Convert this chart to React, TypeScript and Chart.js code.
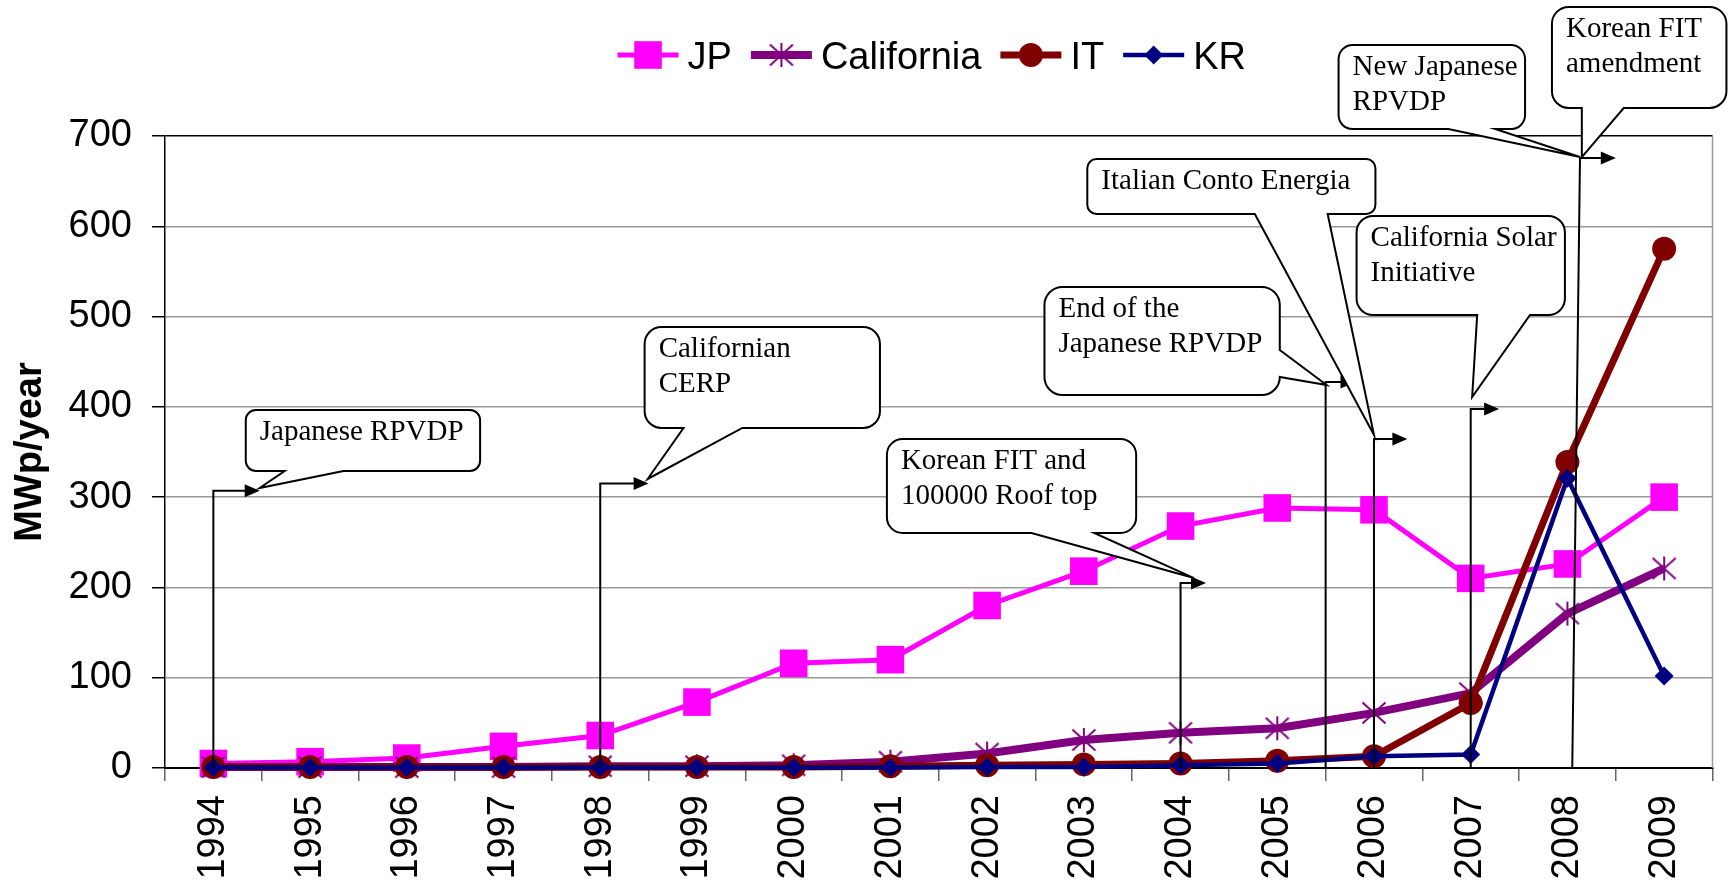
import React, { useEffect, useRef } from 'react';
import { Chart, registerables } from 'chart.js';

Chart.register(...registerables);

// ---------------- data ----------------
const YEARS = ['1994', '1995', '1996', '1997', '1998', '1999', '2000', '2001', '2002', '2003', '2004', '2005', '2006', '2007', '2008', '2009'];
const JP = [5, 7, 11, 24, 36, 73, 116, 120, 180, 218, 268, 288, 286, 210, 226, 300];
const CALIFORNIA = [1, 1, 1, 1, 2, 2, 3, 7, 16, 31, 39, 44, 61, 83, 171, 221];
const IT = [1, 1, 1, 1, 1, 1, 1, 2, 3, 4, 5, 8, 13, 72, 339, 575];
const KR = [0.5, 0.5, 0.5, 0.5, 0.5, 0.5, 0.5, 0.5, 1, 1, 3, 5, 13, 15, 321, 102];
const Y_MIN = 0;
const Y_MAX = 700;
const Y_STEP = 100;
const SERIES_LABELS = ['JP', 'California', 'IT', 'KR'];
const Y_TITLE = 'MWp/year';

// Elbow arrows (data units: category index, MWp/year)
const ARROW_BASE_X = [0, 4, 10, 11.5, 12, 13, 14.05];
const ARROW_TOP_X = [0, 4, 10, 11.5, 12, 13, 14.13];
const ARROW_Y = [307, 315, 205, 427.5, 364.4, 397.6, 675.6];
const ARROW_TIP_X = [0.479, 4.5, 10.263, 11.809, 12.345, 13.294, 14.5];

// Callout bubbles (data units)
const CALLOUT_LINES = [
  ['Japanese RPVDP'],
  ['Californian', 'CERP'],
  ['Korean FIT and', '100000 Roof top'],
  ['End of the', 'Japanese RPVDP'],
  ['Italian Conto Energia'],
  ['California Solar', 'Initiative'],
  ['New Japanese', 'RPVDP'],
  ['Korean FIT', 'amendment'],
];
// [left index, top value, right index, bottom value]
const CALLOUT_BOX = [
  [0.335, 396.5, 2.758, 329.0],
  [4.459, 488.4, 6.892, 376.6],
  [6.964, 364.4, 9.541, 260.3],
  [8.593, 532.8, 11.026, 413.1],
  [9.036, 674.5, 12.015, 613.6],
  [11.82, 611.4, 13.974, 501.7],
  [11.634, 800.8, 13.562, 707.7],
  [13.84, 842.9, 15.644, 731.0],
];
// wedge: side, base start, base end (index for bottom / value for right), tip index, tip value
const CALLOUT_WEDGE: [string, number, number, number, number][] = [
  ['bottom', 0.737, 1.345, 0.479, 310.1],
  ['bottom', 4.861, 5.469, 4.49, 320.1],
  ['bottom', 8.459, 9.108, 10.139, 210.4],
  ['right', 463.0, 433.1, 11.51, 424.2],
  ['bottom', 10.768, 11.521, 12.0, 368.8],
  ['bottom', 13.067, 13.613, 13.015, 410.9],
  ['bottom', 12.768, 13.253, 14.13, 676.7],
  ['bottom', 14.149, 14.582, 14.149, 676.7],
];

// ---------------- styles ----------------
const SANS = "'Liberation Sans', Arial, sans-serif";
const SERIF = "'Liberation Serif', 'Times New Roman', serif";
const COLORS = { JP: '#FF00FF', California: '#800080', IT: '#800000', KR: '#000080' };

function makeAsterisk(color: string) {
  const c = document.createElement('canvas');
  c.width = 26;
  c.height = 26;
  const g = c.getContext('2d')!;
  g.strokeStyle = color;
  g.lineWidth = 2;
  g.beginPath();
  g.moveTo(13, 1);
  g.lineTo(13, 25);
  g.moveTo(1.5, 2.5);
  g.lineTo(24.5, 23.5);
  g.moveTo(24.5, 2.5);
  g.lineTo(1.5, 23.5);
  g.stroke();
  return c;
}

function drawMarker(ctx: CanvasRenderingContext2D, ds: any, x: number, y: number) {
  const style = ds.pointStyle;
  const r = ds.pointRadius;
  ctx.fillStyle = ds.pointBackgroundColor;
  if (style === 'rect') {
    const s = r * Math.SQRT1_2;
    ctx.fillRect(x - s, y - s, 2 * s, 2 * s);
  } else if (style === 'circle') {
    ctx.beginPath();
    ctx.arc(x, y, r, 0, Math.PI * 2);
    ctx.fill();
  } else if (style === 'rectRot') {
    ctx.beginPath();
    ctx.moveTo(x, y - r);
    ctx.lineTo(x + r, y);
    ctx.lineTo(x, y + r);
    ctx.lineTo(x - r, y);
    ctx.closePath();
    ctx.fill();
  } else if (style && style.width) {
    ctx.drawImage(style, x - style.width / 2, y - style.height / 2);
  }
}

function calloutPath(ctx: CanvasRenderingContext2D, l: number, t: number, r: number, b: number, wedge: any) {
  const rad = Math.min(r - l, b - t) * 0.1667;
  ctx.beginPath();
  ctx.moveTo(l + rad, t);
  ctx.lineTo(r - rad, t);
  ctx.arcTo(r, t, r, t + rad, rad);
  if (wedge.side === 'right') {
    ctx.lineTo(r, wedge.a);
    ctx.lineTo(wedge.tx, wedge.ty);
    ctx.lineTo(r, wedge.b);
  }
  ctx.lineTo(r, b - rad);
  ctx.arcTo(r, b, r - rad, b, rad);
  if (wedge.side === 'bottom') {
    ctx.lineTo(wedge.b, b);
    ctx.lineTo(wedge.tx, wedge.ty);
    ctx.lineTo(wedge.a, b);
  }
  ctx.lineTo(l + rad, b);
  ctx.arcTo(l, b, l, b - rad, rad);
  ctx.lineTo(l, t + rad);
  ctx.arcTo(l, t, l + rad, t, rad);
  ctx.closePath();
}

const annotationPlugin = {
  id: 'policyAnnotations',
  beforeDatasetsDraw(chart: any) {
    const { ctx, chartArea } = chart;
    ctx.save();
    ctx.strokeStyle = '#999';
    ctx.lineWidth = 1.5;
    ctx.beginPath();
    ctx.moveTo(chartArea.right, chartArea.top);
    ctx.lineTo(chartArea.right, chartArea.bottom);
    ctx.stroke();
    ctx.restore();
  },
  afterDatasetsDraw(chart: any) {
    const { ctx } = chart;
    const xs = chart.scales.x;
    const ys = chart.scales.y;
    const px = (v: number) => xs.getPixelForValue(v);
    const py = (v: number) => ys.getPixelForValue(v);
    ctx.save();
    // arrows
    ctx.strokeStyle = '#000';
    ctx.fillStyle = '#000';
    ctx.lineWidth = 2;
    const HEAD = 15;
    const HALF = 6.5;
    for (let i = 0; i < ARROW_Y.length; i++) {
      const x0 = px(ARROW_BASE_X[i]);
      const y0 = py(0);
      const x1 = px(ARROW_TOP_X[i]);
      const y1 = py(ARROW_Y[i]);
      const tip = px(ARROW_TIP_X[i]);
      ctx.beginPath();
      ctx.moveTo(x0, y0);
      ctx.lineTo(x1, y1);
      ctx.lineTo(tip - HEAD + 2, y1);
      ctx.stroke();
      ctx.beginPath();
      ctx.moveTo(tip, y1);
      ctx.lineTo(tip - HEAD, y1 - HALF);
      ctx.lineTo(tip - HEAD, y1 + HALF);
      ctx.closePath();
      ctx.fill();
    }
    // callouts
    for (let i = 0; i < CALLOUT_BOX.length; i++) {
      const [bl, bt, br, bb] = CALLOUT_BOX[i];
      const l = px(bl), t = py(bt), r = px(br), b = py(bb);
      const [side, wa, wb, tx, ty] = CALLOUT_WEDGE[i];
      const wedge = side === 'bottom'
        ? { side, a: px(wa), b: px(wb), tx: px(tx), ty: py(ty) }
        : { side, a: py(wa), b: py(wb), tx: px(tx), ty: py(ty) };
      calloutPath(ctx, l, t, r, b, wedge);
      ctx.fillStyle = '#fff';
      ctx.fill();
      ctx.strokeStyle = '#000';
      ctx.lineWidth = 2;
      ctx.lineJoin = 'miter';
      ctx.stroke();
      ctx.fillStyle = '#000';
      ctx.font = `29px ${SERIF}`;
      ctx.textAlign = 'left';
      ctx.textBaseline = 'alphabetic';
      CALLOUT_LINES[i].forEach((line, k) => {
        ctx.fillText(line, l + 14, t + 30 + k * 35);
      });
    }
    ctx.restore();
  },
  afterDraw(chart: any) {
    const { ctx, chartArea } = chart;
    ctx.save();
    ctx.font = `38px ${SANS}`;
    const datasets = chart.data.datasets;
    const LINE = 61, GAP_T = 9, GAP_I = 19;
    const widths = datasets.map((ds: any) => ctx.measureText(ds.label).width);
    const total = datasets.reduce((s: number, _: any, i: number) => s + LINE + GAP_T + widths[i], 0) + GAP_I * (datasets.length - 1);
    let x = (chartArea.left + chartArea.right) / 2 - 7 - total / 2;
    const y = 55;
    datasets.forEach((ds: any, i: number) => {
      ctx.strokeStyle = ds.borderColor;
      ctx.lineWidth = ds.borderWidth;
      ctx.beginPath();
      ctx.moveTo(x, y);
      ctx.lineTo(x + LINE, y);
      ctx.stroke();
      drawMarker(ctx, ds, x + LINE / 2, y);
      ctx.fillStyle = '#000';
      ctx.textAlign = 'left';
      ctx.textBaseline = 'alphabetic';
      ctx.fillText(ds.label, x + LINE + GAP_T, y + 14);
      x += LINE + GAP_T + widths[i] + GAP_I;
    });
    ctx.restore();
  },
};

export default function App() {
  const ref = useRef<HTMLCanvasElement>(null);

  useEffect(() => {
    const canvas = ref.current;
    if (!canvas) return;
    const star = makeAsterisk(COLORS.California);
    const chart = new Chart(canvas, {
      type: 'line',
      data: {
        labels: YEARS,
        datasets: [
          {
            label: SERIES_LABELS[0], data: JP, borderColor: COLORS.JP, backgroundColor: COLORS.JP,
            borderWidth: 5, pointStyle: 'rect', pointRadius: 19.5, pointBackgroundColor: COLORS.JP,
            pointBorderColor: COLORS.JP, pointBorderWidth: 0, order: 4, clip: false, tension: 0,
          },
          {
            label: SERIES_LABELS[1], data: CALIFORNIA, borderColor: COLORS.California, backgroundColor: COLORS.California,
            borderWidth: 8, pointStyle: star as any, pointRadius: 13, pointBackgroundColor: COLORS.California,
            pointBorderColor: COLORS.California, pointBorderWidth: 0, order: 3, clip: false, tension: 0,
          },
          {
            label: SERIES_LABELS[2], data: IT, borderColor: COLORS.IT, backgroundColor: COLORS.IT,
            borderWidth: 7, pointStyle: 'circle', pointRadius: 12, pointBackgroundColor: COLORS.IT,
            pointBorderColor: COLORS.IT, pointBorderWidth: 0, order: 2, clip: false, tension: 0,
          },
          {
            label: SERIES_LABELS[3], data: KR, borderColor: COLORS.KR, backgroundColor: COLORS.KR,
            borderWidth: 4.5, pointStyle: 'rectRot', pointRadius: 9.5, pointBackgroundColor: COLORS.KR,
            pointBorderColor: COLORS.KR, pointBorderWidth: 0, order: 1, clip: false, tension: 0,
          },
        ],
      } as any,
      options: {
        responsive: false,
        animation: false,
        events: [],
        layout: { padding: { top: 136, right: 15, left: 0, bottom: 0 } },
        plugins: {
          legend: { display: false },
          tooltip: { enabled: false },
          title: { display: false },
        },
        scales: {
          x: {
            type: 'category',
            offset: true,
            grid: {
              display: true, drawOnChartArea: false, drawTicks: true, tickLength: 13,
              offset: true, color: '#666', lineWidth: 1.5,
            },
            border: { display: true, color: '#000', width: 2 },
            ticks: {
              autoSkip: false, maxRotation: 90, minRotation: 90, padding: 14, color: '#000',
              font: { family: SANS, size: 38 },
            },
            afterFit: (s: any) => { s.height = 117; },
          },
          y: {
            min: Y_MIN,
            max: Y_MAX,
            ticks: { stepSize: Y_STEP, padding: 20, color: '#000', font: { family: SANS, size: 38 } },
            grid: {
              color: (c: any) => (c.tick && c.tick.value === Y_MAX ? '#000' : '#999'),
              lineWidth: 1.5, tickLength: 13, tickColor: '#000', drawTicks: true,
            },
            border: { display: true, color: '#000', width: 1.5 },
            title: {
              display: true, text: Y_TITLE, color: '#000',
              font: { family: SANS, size: 38, weight: 'bold' },
              padding: { top: 8, bottom: 0 },
            },
            afterFit: (s: any) => { s.width = 165; },
          },
        },
      } as any,
      plugins: [annotationPlugin],
    });
    return () => chart.destroy();
  }, []);

  return (
    <div style={{ position: 'absolute', left: 0, top: 0, width: 1732, height: 885, background: '#fff' }}>
      <canvas ref={ref} width={1732} height={885} style={{ width: 1732, height: 885, display: 'block' }} />
    </div>
  );
}
